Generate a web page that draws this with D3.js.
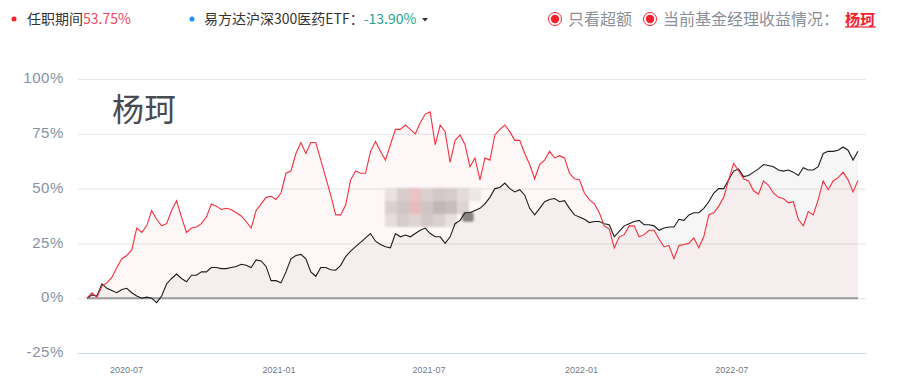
<!DOCTYPE html>
<html>
<head>
<meta charset="utf-8">
<script src="https://cdn.jsdelivr.net/npm/d3@7/dist/d3.min.js"></script>
<style>
  body { margin: 0; background: #fff; }
  svg { display: block; }
  .cjk { font-family: "Noto Sans CJK SC", "Noto Sans", sans-serif; }
</style>
</head>
<body>
<div id="chart"></div>
<script>
  // sample dates (every 6 days)
  var dates = [
    "2020-05-15","2020-05-21","2020-05-27","2020-06-02","2020-06-08","2020-06-14","2020-06-20","2020-06-26",
    "2020-07-02","2020-07-08","2020-07-14","2020-07-20","2020-07-26","2020-08-01","2020-08-07","2020-08-13",
    "2020-08-19","2020-08-25","2020-08-31","2020-09-06","2020-09-12","2020-09-18","2020-09-24","2020-09-30",
    "2020-10-06","2020-10-12","2020-10-18","2020-10-24","2020-10-30","2020-11-05","2020-11-11","2020-11-17",
    "2020-11-23","2020-11-29","2020-12-05","2020-12-11","2020-12-17","2020-12-23","2020-12-29","2021-01-04",
    "2021-01-10","2021-01-16","2021-01-22","2021-01-28","2021-02-03","2021-02-09","2021-02-15","2021-02-21",
    "2021-02-27","2021-03-05","2021-03-11","2021-03-17","2021-03-23","2021-03-29","2021-04-04","2021-04-10",
    "2021-04-16","2021-04-22","2021-04-28","2021-05-04","2021-05-10","2021-05-16","2021-05-22","2021-05-28",
    "2021-06-03","2021-06-09","2021-06-15","2021-06-21","2021-06-27","2021-07-03","2021-07-09","2021-07-15",
    "2021-07-21","2021-07-27","2021-08-02","2021-08-08","2021-08-14","2021-08-20","2021-08-26","2021-09-01",
    "2021-09-07","2021-09-13","2021-09-19","2021-09-25","2021-10-01","2021-10-07","2021-10-13","2021-10-19",
    "2021-10-25","2021-10-31","2021-11-06","2021-11-12","2021-11-18","2021-11-24","2021-11-30","2021-12-06",
    "2021-12-12","2021-12-18","2021-12-24","2021-12-30","2022-01-05","2022-01-11","2022-01-17","2022-01-23",
    "2022-01-29","2022-02-04","2022-02-10","2022-02-16","2022-02-22","2022-02-28","2022-03-06","2022-03-12",
    "2022-03-18","2022-03-24","2022-03-30","2022-04-05","2022-04-11","2022-04-17","2022-04-23","2022-04-29",
    "2022-05-05","2022-05-11","2022-05-17","2022-05-23","2022-05-29","2022-06-04","2022-06-10","2022-06-16",
    "2022-06-22","2022-06-28","2022-07-04","2022-07-10","2022-07-16","2022-07-22","2022-07-28","2022-08-03",
    "2022-08-09","2022-08-15","2022-08-21","2022-08-27","2022-09-02","2022-09-08","2022-09-14","2022-09-20",
    "2022-09-26","2022-10-02","2022-10-08","2022-10-14","2022-10-20","2022-10-26","2022-11-01","2022-11-07",
    "2022-11-13","2022-11-19","2022-11-25","2022-12-01"
  ];

  // 任职期间 (red)
  var redValues = [
    0, 2.5, 0.5, 5.5, 7, 9.5, 14, 18, 19.5, 22, 32, 30, 33, 40, 36, 33,
    34, 40, 44.5, 37, 30, 32, 32.5, 34, 37, 43, 42, 40.5, 41, 40.5, 39, 37.5,
    35, 32, 40, 43, 46, 46.5, 45, 48, 57, 58, 66, 71, 66, 71, 71, 63,
    55, 47, 38, 38, 42.5, 54, 58, 57, 57, 67, 71.5, 67, 63, 70, 77, 77,
    79, 77, 75, 80, 84, 85, 70, 79, 76, 62, 72, 74.5, 70, 60, 64, 54,
    64, 63, 74.5, 77, 79, 76, 72, 72, 66, 61, 54.5, 61, 63, 67, 64, 65,
    64, 57, 54.5, 54, 48, 45, 43, 39, 33, 31.5, 23, 28, 29, 33, 33, 28,
    29, 31, 31, 27, 23.5, 24, 18, 24, 24.5, 25, 27.5, 23, 28, 38, 39, 42,
    46, 54, 61.5, 58, 54.5, 53.5, 49, 47.5, 53.5, 51.5, 48, 46, 45.5, 43.5, 44, 36,
    33, 39.5, 38, 45, 53.5, 49.5, 53.5, 55, 57.5, 54, 48.5, 53.75
  ];

  // black line
  var blackValues = [
    0, 1.5, 1, 6.5, 4.5, 3.5, 2.5, 4, 4.5, 2.5, 1, 0, 0.5, 0, -2, 1,
    6.5, 9, 11, 9, 7.5, 10.5, 10.5, 12, 12, 14, 14, 13.5, 13.5, 14, 14.5, 15.5,
    15, 14, 17.5, 17, 14.5, 8, 8, 7, 12, 18, 19.5, 20, 18, 12, 10, 14,
    14, 13, 12.8, 15, 19, 21.5, 23.5, 25.5, 27.5, 29.5, 26, 24.5, 23.5, 23, 29.5, 28,
    28.8, 28, 29.5, 31, 32, 29.5, 28, 28, 25, 28, 34, 35.5, 39, 39, 40, 41,
    43, 46, 50, 50.5, 52.5, 50, 48.5, 49.5, 47, 41, 38, 41, 44, 45, 45.5, 44,
    44.5, 41, 38, 37, 36, 34.5, 35, 35, 34, 33.5, 28, 30.5, 33, 34, 35, 35.5,
    33.5, 33.5, 33, 31, 32, 32.5, 32.5, 36, 35.5, 38, 39, 39, 41, 44, 48, 50,
    50, 54, 58, 59, 55.5, 56, 57.5, 59, 61, 60.5, 60, 58.5, 58, 58.5, 57.5, 56,
    59.5, 58.5, 58.5, 60, 66, 67, 67, 67.5, 69, 67.5, 63, 67
  ];

  var yTicks = [-25, 0, 25, 50, 75, 100];
  var xTicks = ["2020-07-01", "2021-01-01", "2021-07-01", "2022-01-01", "2022-07-01"];

  // blurred watermark cells
  var mosaic = [
    ["#ebe9e9", "#d8d3d3", "#ebc9cb", "#dbd7d7", "#d3cfcf", "#d7d3d3", "#e3e1e1", "#efeeee"],
    ["#dbd7d7", "#cfcbcb", "#e7c3c5", "#cfcbcb", "#c0bdbd", "#c7c3c3", "#dfdbdb", "#ffffff"],
    ["#e7e3e3", "#d7d3d3", "#dfdbdb", "#d3cfcf", "#dbd7d7", "#e9e7e7", "#ffffff", "#ffffff"]
  ];

  var W = 899, H = 385;
  var parse = d3.timeParse("%Y-%m-%d");
  var series = dates.map(function(d, i) {
    return { date: parse(d), red: redValues[i], black: blackValues[i] };
  });

  var svg = d3.select("#chart").append("svg")
      .attr("width", W)
      .attr("height", H);

  var x = d3.scaleTime()
      .domain(d3.extent(series, function(d) { return d.date; }))
      .range([87, 858]);
  var y = d3.scaleLinear()
      .domain([-25, 100])
      .range([353, 79]);

  // gridlines + y labels
  var yAxis = svg.append("g")
      .attr("transform", "translate(866,0)")
      .call(d3.axisLeft(y).tickValues(yTicks).tickSize(788).tickPadding(14)
        .tickFormat(function(d) { return d + "%"; }));
  yAxis.select(".domain").remove();
  yAxis.selectAll("line")
      .attr("stroke", function(d) { return d === -25 ? "#ccd6eb" : "#e6e6e6"; });
  yAxis.selectAll("text")
      .attr("fill", "#8592a5")
      .attr("dy", "0.25em")
      .style("font", "15px 'Liberation Sans', Arial, sans-serif")
      .style("letter-spacing", "0.6px");

  // x labels
  var xAxis = svg.append("g")
      .attr("transform", "translate(0,364)")
      .call(d3.axisBottom(x).tickValues(xTicks.map(parse)).tickSize(0)
        .tickFormat(d3.timeFormat("%Y-%m")));
  xAxis.select(".domain").remove();
  xAxis.selectAll("text")
      .attr("fill", "#6f7888")
      .style("font", "9px 'Liberation Sans', Arial, sans-serif");

  // big name label
  svg.append("text")
      .attr("class", "cjk")
      .attr("x", 112)
      .attr("y", 121)
      .attr("fill", "#474a50")
      .style("font-size", "32px")
      .text("杨珂");

  // watermark mosaic
  var defs = svg.append("defs");
  defs.append("filter").attr("id", "soft")
    .append("feGaussianBlur").attr("stdDeviation", 1.2);
  var wm = svg.append("g").attr("filter", "url(#soft)");
  mosaic.forEach(function(row, r) {
    row.forEach(function(c, k) {
      wm.append("rect")
        .attr("x", 385 + k * 12)
        .attr("y", 188 + r * 13)
        .attr("width", 12)
        .attr("height", 13)
        .attr("fill", c);
    });
  });
  wm.append("rect").attr("x", 462).attr("y", 212).attr("width", 12).attr("height", 10)
    .attr("rx", 3).attr("fill", "#8d8d8d");

  // areas
  var areaRed = d3.area()
      .x(function(d) { return x(d.date); })
      .y0(y(0))
      .y1(function(d) { return y(d.red); });
  var areaBlack = d3.area()
      .x(function(d) { return x(d.date); })
      .y0(y(0))
      .y1(function(d) { return y(d.black); });

  svg.append("path").datum(series)
      .attr("d", areaRed)
      .attr("fill", "rgba(240,40,50,0.04)");
  svg.append("path").datum(series)
      .attr("d", areaBlack)
      .attr("fill", "rgba(40,20,20,0.04)");

  // zero line
  svg.append("line")
      .attr("x1", x(series[0].date))
      .attr("x2", x(series[series.length - 1].date))
      .attr("y1", y(0))
      .attr("y2", y(0))
      .attr("stroke", "#999")
      .attr("stroke-width", 2);

  var lineBlack = d3.line()
      .x(function(d) { return x(d.date); })
      .y(function(d) { return y(d.black); });
  var lineRed = d3.line()
      .x(function(d) { return x(d.date); })
      .y(function(d) { return y(d.red); });

  svg.append("path").datum(series)
      .attr("d", lineBlack)
      .attr("fill", "none")
      .attr("stroke", "#1c1c1c")
      .attr("stroke-width", 1.1);
  svg.append("path").datum(series)
      .attr("d", lineRed)
      .attr("fill", "none")
      .attr("stroke", "#f5303c")
      .attr("stroke-width", 1.1);

  // header legend
  var head = svg.append("g").attr("class", "cjk").style("font-size", "14px");
  head.append("circle").attr("cx", 14).attr("cy", 19).attr("r", 2.5).attr("fill", "#f5222d");
  var t1 = head.append("text").attr("x", 27).attr("y", 24).attr("fill", "#333");
  t1.append("tspan").text("任职期间");
  t1.append("tspan").attr("fill", "#f2495c").text("53.75%");

  head.append("circle").attr("cx", 192).attr("cy", 19).attr("r", 2.5).attr("fill", "#1890ff");
  var t2 = head.append("text").attr("x", 204).attr("y", 24).attr("fill", "#333");
  t2.append("tspan").text("易方达沪深300医药ETF：");
  t2.append("tspan").attr("fill", "#1fa38e").text("-13.90%");
  head.append("path").attr("d", "M422,18L428,18L425,21.5Z").attr("fill", "#333");

  // right side toggles
  var right = svg.append("g").attr("class", "cjk").style("font-size", "16px");
  [555, 650].forEach(function(cx) {
    right.append("circle").attr("cx", cx).attr("cy", 19).attr("r", 6.5)
      .attr("fill", "#fff").attr("stroke", "#f5222d").attr("stroke-width", 1);
    right.append("circle").attr("cx", cx).attr("cy", 19).attr("r", 4.2).attr("fill", "#f5222d");
  });
  right.append("text").attr("x", 568).attr("y", 25).attr("fill", "#8a8f99").text("只看超额");
  right.append("text").attr("x", 663).attr("y", 25).attr("fill", "#8a8f99").text("当前基金经理收益情况：");
  right.append("text").attr("x", 845).attr("y", 25).attr("fill", "#f5222d")
      .style("font-weight", "bold").style("font-size", "15px").text("杨珂");
  right.append("line").attr("x1", 845).attr("x2", 876).attr("y1", 27).attr("y2", 27)
      .attr("stroke", "#f5222d").attr("stroke-width", 1.2);
</script>
</body>
</html>
